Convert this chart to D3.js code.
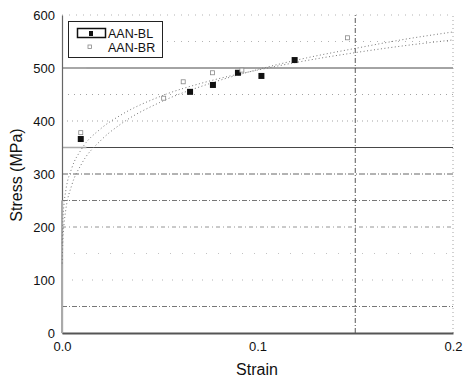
<!DOCTYPE html>
<html><head><meta charset="utf-8">
<script src="https://cdn.jsdelivr.net/npm/d3@7"></script>
<style>body{margin:0;background:#fff}svg{display:block}text{font-family:"Liberation Sans",Arial,sans-serif}</style>
</head><body><svg id="c" width="463" height="382"></svg>
<script>
// ---- data ----
const strainTicks = [0.0, 0.1, 0.2];
const stressTicks = [0, 100, 200, 300, 400, 500, 600];
const gridStress = [50, 100, 150, 200, 250, 300, 350, 400, 450, 500, 550, 600];
const gridStrain = [0.15, 0.2];
const seriesNames = ["AAN-BL", "AAN-BR"];
const blStrain = [0.0096, 0.0655, 0.0772, 0.090, 0.102, 0.119];
const blStress = [366, 455, 468, 491, 485, 515];
const brStrain = [0.0096, 0.052, 0.062, 0.077, 0.092, 0.146];
const brStress = [378, 443, 474, 491, 496, 557];
const fitStrain = [0.0001, 0.0005, 0.001, 0.002, 0.005, 0.01, 0.02, 0.03, 0.05, 0.075, 0.1, 0.125, 0.15, 0.175, 0.2];
const fitBL = [131, 179, 204, 234, 279, 319, 364, 394, 435, 470, 497, 519, 537, 554, 568];
const fitBR = [169, 217, 242, 270, 311, 347, 386, 411, 446, 475, 496, 514, 529, 542, 553];

// ---- chart ----
const svg = d3.select("#c");
const x = d3.scaleLinear().domain([0, 0.2]).range([62, 453]);
const y = d3.scaleLinear().domain([0, 600]).range([333, 15]);

const gridStyle = {
  50: ["#666", "5,2,1,2"], 100: ["#aaa", "1,9"], 150: ["#bbb", "1,11"],
  200: ["#888", "4,3,1,3"], 250: ["#666", "5,2,1,2"], 300: ["#555", "6,2,1,2"],
  350: ["#333", null], 400: ["#999", "1,4"], 450: ["#999", "1,5"],
  500: ["#333", null], 550: ["#aaa", "1,6"], 600: ["#aaa", "1,6"]
};
svg.append("g").selectAll("line").data(gridStress).join("line")
  .attr("x1", x(0)).attr("x2", x(0.2))
  .attr("y1", d => y(d)).attr("y2", d => y(d))
  .attr("stroke", d => gridStyle[d][0]).attr("stroke-width", 0.9)
  .attr("stroke-dasharray", d => gridStyle[d][1]);
svg.append("g").selectAll("line").data([350, 500]).join("line")
  .attr("x1", x(0)).attr("x2", x(0.0125))
  .attr("y1", d => y(d)).attr("y2", d => y(d))
  .attr("stroke", "#aaa").attr("stroke-width", 1.5);

svg.append("g").selectAll("line").data(gridStrain).join("line")
  .attr("x1", d => x(d)).attr("x2", d => x(d))
  .attr("y1", y(0)).attr("y2", y(600))
  .attr("stroke", d => d === 0.15 ? "#444" : "#999")
  .attr("stroke-width", 0.9)
  .attr("stroke-dasharray", d => d === 0.15 ? "5,2,1,2" : "1,3");

// axes
const yAxis = d3.axisLeft(y).tickValues(stressTicks).tickSize(0).tickPadding(7).tickFormat(d3.format("d"));
const gy = svg.append("g").attr("transform", `translate(${x(0)},0)`).call(yAxis);
gy.select(".domain").attr("stroke", "#666").attr("stroke-width", 1.2);
gy.selectAll("text").attr("font-size", 13).attr("fill", "#111");
const xAxis = d3.axisBottom(x).tickValues(strainTicks).tickSize(0).tickPadding(9).tickFormat(d3.format(".1f"));
const gx = svg.append("g").attr("transform", `translate(0,${y(0)})`).call(xAxis);
gx.select(".domain").attr("stroke", "#555").attr("stroke-width", 2);
gx.selectAll("text").attr("font-size", 13).attr("fill", "#111");
svg.append("line").attr("x1", x(0)).attr("x2", x(0)).attr("y1", y(250)).attr("y2", y(0))
  .attr("stroke", "#aaa").attr("stroke-width", 2);

// fit curves
const line = d3.line().curve(d3.curveMonotoneX);
[fitBL, fitBR].forEach(arr => {
  svg.append("path")
    .attr("d", line(fitStrain.map((s, i) => [x(s), y(arr[i])])))
    .attr("fill", "none").attr("stroke", "#777").attr("stroke-width", 1)
    .attr("stroke-dasharray", "1,2.5");
});

// markers
svg.append("g").selectAll("rect").data(blStrain).join("rect")
  .attr("x", (d, i) => x(d) - 3).attr("y", (d, i) => y(blStress[i]) - 3)
  .attr("width", 6).attr("height", 6).attr("fill", "#111");
svg.append("g").selectAll("rect").data(brStrain).join("rect")
  .attr("x", (d, i) => x(d) - 2).attr("y", (d, i) => y(brStress[i]) - 2)
  .attr("width", 4).attr("height", 4).attr("fill", "#fff")
  .attr("stroke", "#888").attr("stroke-width", 0.8);

// legend
const lg = svg.append("g");
lg.append("rect").attr("x", 68.5).attr("y", 21.5).attr("width", 94).attr("height", 36)
  .attr("fill", "#fff").attr("stroke", "#222").attr("stroke-width", 1);
lg.append("rect").attr("x", 77.5).attr("y", 28.5).attr("width", 28).attr("height", 9)
  .attr("fill", "#fff").attr("stroke", "#111").attr("stroke-width", 1.5);
lg.append("rect").attr("x", 89).attr("y", 31).attr("width", 4).attr("height", 5).attr("fill", "#111");
lg.append("rect").attr("x", 88).attr("y", 45).attr("width", 3.5).attr("height", 3.5)
  .attr("fill", "#fff").attr("stroke", "#888").attr("stroke-width", 0.8);
lg.selectAll("text").data(seriesNames).join("text")
  .attr("x", 108).attr("y", (d, i) => 37.5 + i * 14)
  .attr("font-size", 12.5).attr("fill", "#111").text(d => d);

// titles
svg.append("text").attr("x", 257).attr("y", 375).attr("text-anchor", "middle")
  .attr("font-size", 16).attr("fill", "#111").text("Strain");
svg.append("text").attr("transform", "translate(22,175) rotate(-90)").attr("text-anchor", "middle")
  .attr("font-size", 16).attr("fill", "#111").text("Stress (MPa)");
</script></body></html>
